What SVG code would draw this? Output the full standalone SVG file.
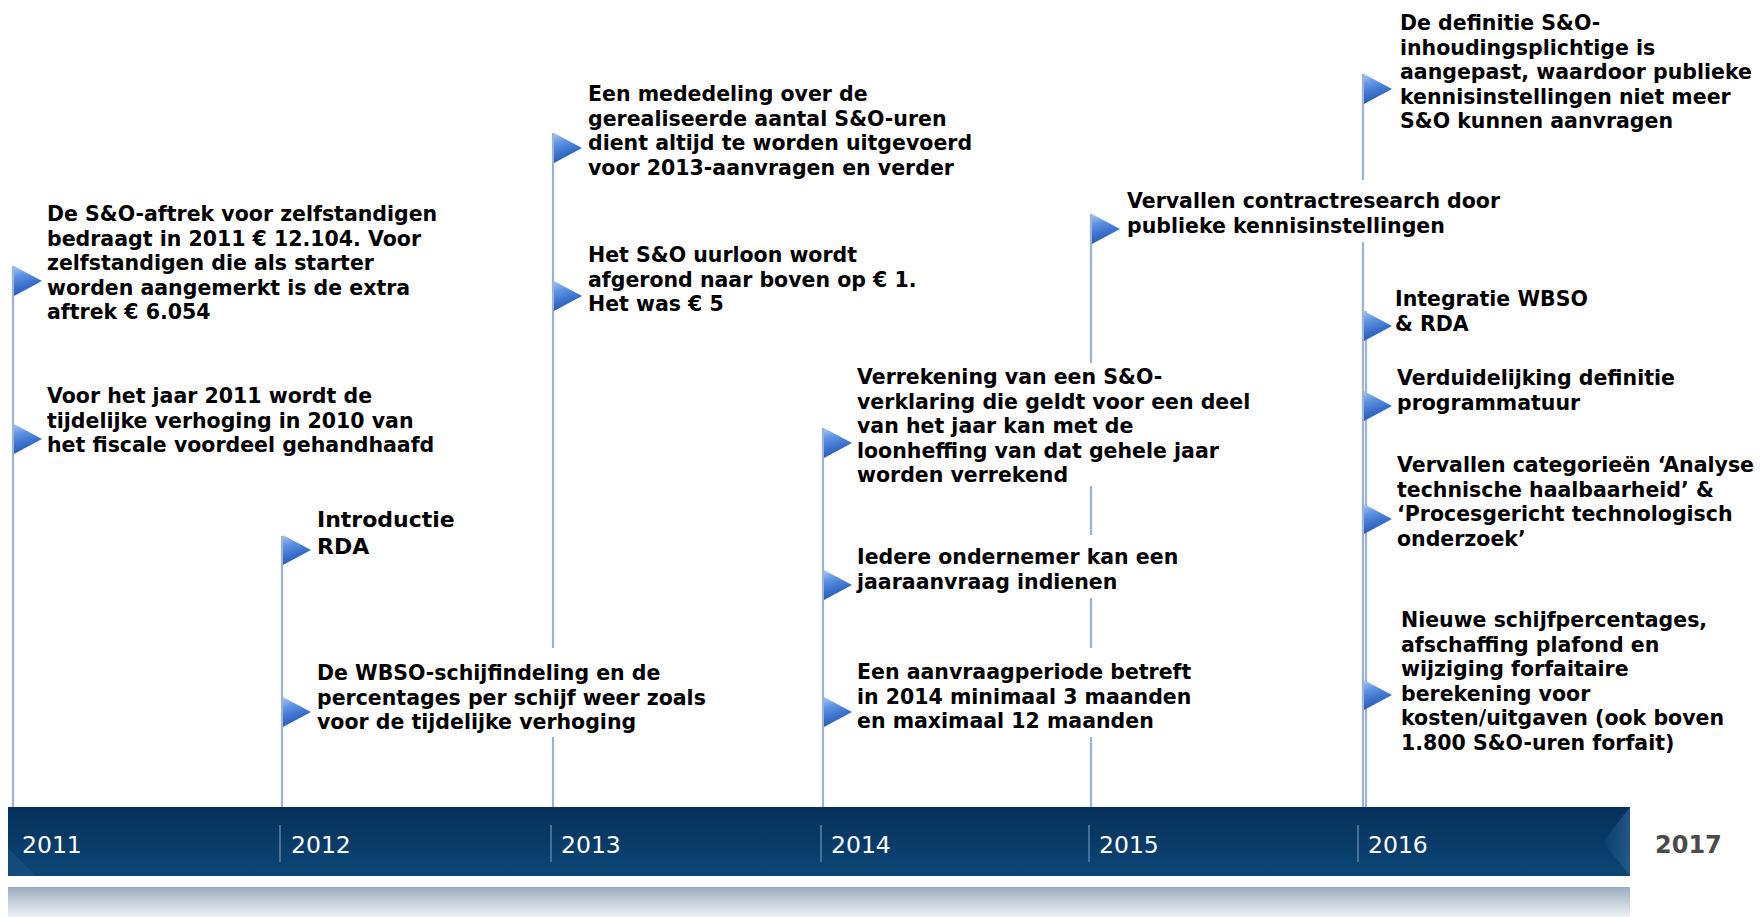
<svg xmlns="http://www.w3.org/2000/svg" xmlns:xlink="http://www.w3.org/1999/xlink" width="1763" height="917" viewBox="0 0 1763 917">
<defs>
<style>
.t{font-family:"DejaVu Sans","Verdana",sans-serif;font-weight:bold;font-size:20.5px;fill:#000}
.tb{font-family:"DejaVu Sans","Verdana",sans-serif;font-weight:bold;font-size:22px;fill:#000}
.yr{font-family:"DejaVu Sans","Tahoma",sans-serif;font-size:23.5px;fill:#fff}
.y17{font-family:"DejaVu Sans","Tahoma",sans-serif;font-weight:bold;font-size:24px;fill:#4b4b4b}
.pole{stroke:#9db3d5;stroke-width:2.2;fill:none}
.sep{stroke:#5d83ab;stroke-width:1.5}
.bg{fill:#fff}
</style>
<linearGradient id="flagGrad" x1="0" y1="0" x2="0.3" y2="1">
<stop offset="0" stop-color="#a9c6f2"/>
<stop offset="0.35" stop-color="#5f93e2"/>
<stop offset="0.7" stop-color="#3a70cc"/>
<stop offset="1" stop-color="#2857ab"/>
</linearGradient>
<linearGradient id="barGrad" x1="0" y1="0" x2="0" y2="1">
<stop offset="0" stop-color="#06305a"/>
<stop offset="1" stop-color="#0c4676"/>
</linearGradient>
<linearGradient id="bevelGrad" x1="0" y1="0" x2="1" y2="0">
<stop offset="0" stop-color="#0a3e6d"/>
<stop offset="1" stop-color="#2a5f8f"/>
</linearGradient>
<linearGradient id="reflGrad" x1="0" y1="0" x2="0" y2="1">
<stop offset="0" stop-color="#9aacc0"/>
<stop offset="1" stop-color="#eef2f5"/>
</linearGradient>
<path id="flag" d="M0,0 L28,15 L0,30 Z" fill="url(#flagGrad)"/>
</defs>
<rect width="1763" height="917" fill="#fff"/>

<g id="timeline-bar">
<rect x="8" y="887" width="1622" height="30" fill="url(#reflGrad)"/>
<rect x="8" y="807" width="1622" height="69" fill="url(#barGrad)"/>
<polygon points="1630,807 1603,842 1630,876" fill="url(#bevelGrad)" opacity="0.8"/>
<polygon points="8,848 8,876 36,876" fill="#1d5686" opacity="0.5"/>
<line class="sep" x1="280" y1="825" x2="280" y2="862"/>
<line class="sep" x1="551" y1="825" x2="551" y2="862"/>
<line class="sep" x1="821" y1="825" x2="821" y2="862"/>
<line class="sep" x1="1089" y1="825" x2="1089" y2="862"/>
<line class="sep" x1="1358" y1="825" x2="1358" y2="862"/>
<text class="yr" x="22" y="853">2011</text>
<text class="yr" x="291" y="853">2012</text>
<text class="yr" x="561" y="853">2013</text>
<text class="yr" x="831" y="853">2014</text>
<text class="yr" x="1099" y="853">2015</text>
<text class="yr" x="1368" y="853">2016</text>
<text class="y17" x="1655" y="853">2017</text>
</g>

<g id="connectors">
<line class="pole" x1="13" y1="266" x2="13" y2="807"/>
<line class="pole" x1="282" y1="536" x2="282" y2="807"/>
<line class="pole" x1="553" y1="133" x2="553" y2="807"/>
<line class="pole" x1="823" y1="428" x2="823" y2="807"/>
<line class="pole" x1="1091" y1="214" x2="1091" y2="807"/>
<line class="pole" x1="1363" y1="74" x2="1363" y2="807"/>
<line class="pole" x1="1366" y1="311" x2="1366" y2="807"/>
</g>

<g id="n2011a">
<use href="#flag" x="14" y="266"/>
<text class="t" x="47" y="221"><tspan x="47">De S&amp;O-aftrek voor zelfstandigen</tspan><tspan x="47" dy="24.5">bedraagt in 2011 € 12.104. Voor</tspan><tspan x="47" dy="24.5">zelfstandigen die als starter</tspan><tspan x="47" dy="24.5">worden aangemerkt is de extra</tspan><tspan x="47" dy="24.5">aftrek € 6.054</tspan></text>
</g>
<g id="n2011b">
<use href="#flag" x="14" y="424"/>
<text class="t" x="47" y="403"><tspan x="47">Voor het jaar 2011 wordt de</tspan><tspan x="47" dy="24.5">tijdelijke verhoging in 2010 van</tspan><tspan x="47" dy="24.5">het fiscale voordeel gehandhaafd</tspan></text>
</g>
<g id="n2012a">
<use href="#flag" x="283" y="535"/>
<text class="tb" x="317" y="527"><tspan x="317">Introductie</tspan><tspan x="317" dy="27">RDA</tspan></text>
</g>
<g id="n2012b">
<rect class="bg" x="312" y="648" width="400" height="89"/>
<use href="#flag" x="283" y="697"/>
<text class="t" x="317" y="680"><tspan x="317">De WBSO-schijfindeling en de</tspan><tspan x="317" dy="24.5">percentages per schijf weer zoals</tspan><tspan x="317" dy="24.5">voor de tijdelijke verhoging</tspan></text>
</g>
<g id="n2013a">
<use href="#flag" x="554" y="133"/>
<text class="t" x="588" y="101"><tspan x="588">Een mededeling over de</tspan><tspan x="588" dy="24.5">gerealiseerde aantal S&amp;O-uren</tspan><tspan x="588" dy="24.5">dient altijd te worden uitgevoerd</tspan><tspan x="588" dy="24.5">voor 2013-aanvragen en verder</tspan></text>
</g>
<g id="n2013b">
<use href="#flag" x="554" y="281"/>
<text class="t" x="588" y="262"><tspan x="588">Het S&amp;O uurloon wordt</tspan><tspan x="588" dy="24.5">afgerond naar boven op € 1.</tspan><tspan x="588" dy="24.5">Het was € 5</tspan></text>
</g>
<g id="n2014a">
<rect class="bg" x="852" y="363" width="410" height="123"/>
<use href="#flag" x="824" y="428"/>
<text class="t" x="857" y="384"><tspan x="857">Verrekening van een S&amp;O-</tspan><tspan x="857" dy="24.5">verklaring die geldt voor een deel</tspan><tspan x="857" dy="24.5">van het jaar kan met de</tspan><tspan x="857" dy="24.5">loonheffing van dat gehele jaar</tspan><tspan x="857" dy="24.5">worden verrekend</tspan></text>
</g>
<g id="n2014b">
<rect class="bg" x="852" y="535" width="340" height="63"/>
<use href="#flag" x="824" y="570"/>
<text class="t" x="857" y="564"><tspan x="857">Iedere ondernemer kan een</tspan><tspan x="857" dy="24.5">jaaraanvraag indienen</tspan></text>
</g>
<g id="n2014c">
<rect class="bg" x="852" y="648" width="355" height="89"/>
<use href="#flag" x="824" y="697"/>
<text class="t" x="857" y="679"><tspan x="857">Een aanvraagperiode betreft</tspan><tspan x="857" dy="24.5">in 2014 minimaal 3 maanden</tspan><tspan x="857" dy="24.5">en maximaal 12 maanden</tspan></text>
</g>
<g id="n2015">
<rect class="bg" x="1122" y="180" width="390" height="62"/>
<use href="#flag" x="1092" y="214"/>
<text class="t" x="1127" y="208"><tspan x="1127">Vervallen contractresearch door</tspan><tspan x="1127" dy="24.5">publieke kennisinstellingen</tspan></text>
</g>
<g id="n2016a">
<use href="#flag" x="1364" y="74"/>
<text class="t" x="1400" y="30"><tspan x="1400">De definitie S&amp;O-</tspan><tspan x="1400" dy="24.5">inhoudingsplichtige is</tspan><tspan x="1400" dy="24.5">aangepast, waardoor publieke</tspan><tspan x="1400" dy="24.5">kennisinstellingen niet meer</tspan><tspan x="1400" dy="24.5">S&amp;O kunnen aanvragen</tspan></text>
</g>
<g id="n2016b">
<use href="#flag" x="1364" y="311"/>
<text class="t" x="1395" y="306"><tspan x="1395">Integratie WBSO</tspan><tspan x="1395" dy="24.5">&amp; RDA</tspan></text>
</g>
<g id="n2016c">
<use href="#flag" x="1364" y="391"/>
<text class="t" x="1397" y="385"><tspan x="1397">Verduidelijking definitie</tspan><tspan x="1397" dy="24.5">programmatuur</tspan></text>
</g>
<g id="n2016d">
<use href="#flag" x="1364" y="504"/>
<text class="t" x="1397" y="472"><tspan x="1397">Vervallen categorieën ‘Analyse</tspan><tspan x="1397" dy="24.5">technische haalbaarheid’ &amp;</tspan><tspan x="1397" dy="24.5">‘Procesgericht technologisch</tspan><tspan x="1397" dy="24.5">onderzoek’</tspan></text>
</g>
<g id="n2016e">
<use href="#flag" x="1364" y="680"/>
<text class="t" x="1401" y="627"><tspan x="1401">Nieuwe schijfpercentages,</tspan><tspan x="1401" dy="24.5">afschaffing plafond en</tspan><tspan x="1401" dy="24.5">wijziging forfaitaire</tspan><tspan x="1401" dy="24.5">berekening voor</tspan><tspan x="1401" dy="24.5">kosten/uitgaven (ook boven</tspan><tspan x="1401" dy="24.5">1.800 S&amp;O-uren forfait)</tspan></text>
</g>
</svg>
